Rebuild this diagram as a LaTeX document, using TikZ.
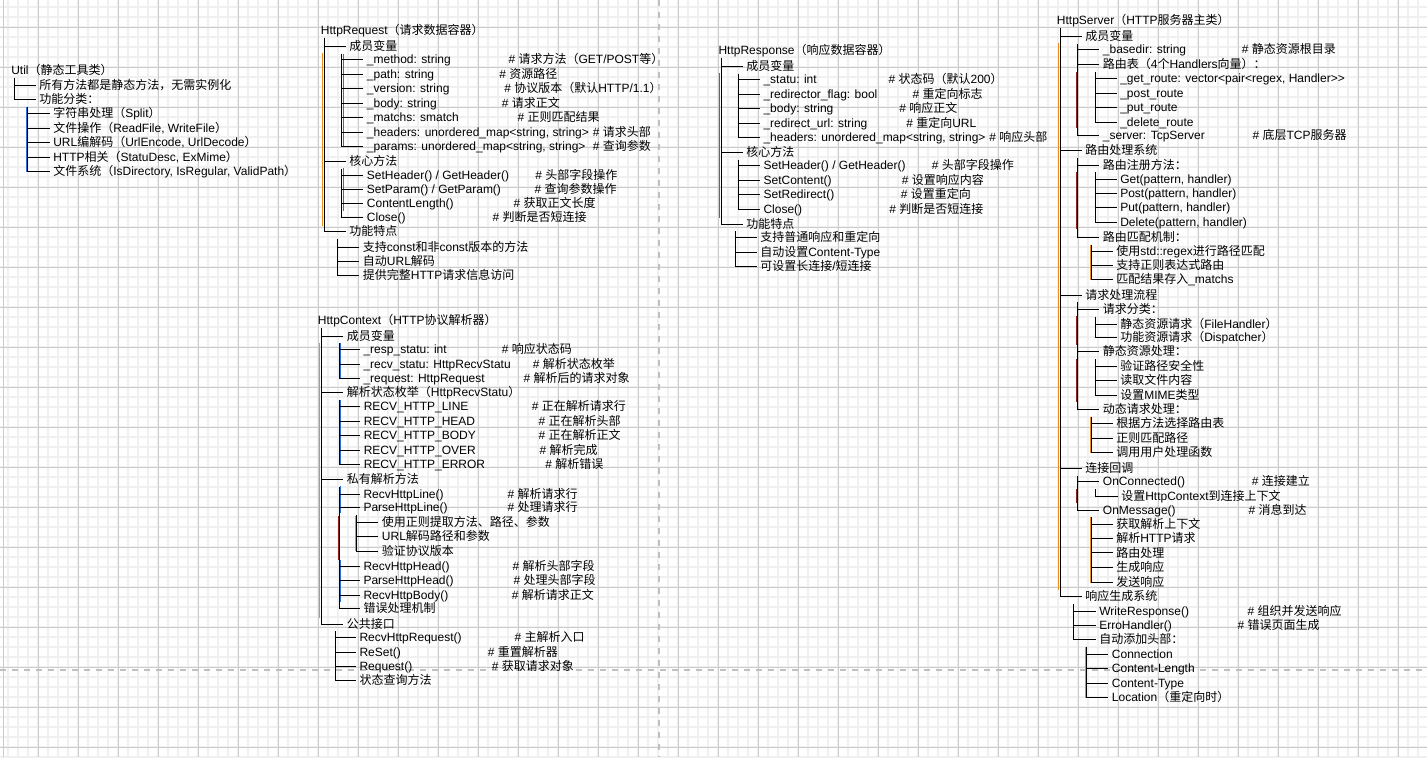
\documentclass[tikz,border=0pt]{standalone}
\usepackage{fontspec}
\setmainfont{Liberation Sans}
\newfontfamily\cjkfont{Noto Sans CJK SC}
\newfontfamily\latfont{Liberation Sans}
\XeTeXinterchartokenstate=1
\newXeTeXintercharclass\cjkcls
\makeatletter
\def\setcjkrange#1#2{\count@=#1\relax\loop\XeTeXcharclass\count@=\cjkcls\ifnum\count@<#2\relax\advance\count@ by 1\repeat}
\makeatother
\setcjkrange{"3000}{"303F}
\setcjkrange{"4E00}{"9FFF}
\setcjkrange{"FF00}{"FFEF}
\XeTeXinterchartoks 0 \cjkcls = {\cjkfont}
\XeTeXinterchartoks 4095 \cjkcls = {\cjkfont}
\XeTeXinterchartoks \cjkcls 0 = {\latfont}
\XeTeXinterchartoks \cjkcls 4095 = {\latfont}
\definecolor{gmaj}{HTML}{CCCCCC}
\definecolor{gmin}{HTML}{F0F0F0}
\definecolor{dsh}{HTML}{C0C0C0}
\definecolor{cor}{HTML}{E8901E}
\definecolor{cbl}{HTML}{2A6FD6}
\definecolor{cdr}{HTML}{8B2020}
\newcommand\nd[4]{\node[tx] (#1) at (#2,#3) {#4};}
\newcommand\nc[6]{\node[tx] (#1) at (#2,#3) {#4}; \node[tx] (#1c) at (#5,#3) {#6};}
\newcommand\br[2]{\draw[tree] (#1 |- #2.west) -- ([xshift=-2.5pt]#2.west);}
\newcommand\bl[2]{\draw[tree] (#1) |- ([xshift=-2.5pt]#2.west);}
\begin{document}
\begin{tikzpicture}[x=0.75pt,y=-0.75pt,
  tx/.style={anchor=west,inner sep=0pt,text height=6.4pt,text depth=0pt,font=\fontsize{9pt}{11pt}\selectfont},
  tree/.style={draw=black,line width=0.75pt},
  cl/.style={draw=#1,line width=0.75pt}]
\useasboundingbox (0,0) rectangle (1427,757);
\fill[white] (0,0) rectangle (1427,757);
% grid
\foreach \x in {8,18,...,1418} \draw[gmin,line width=1.1pt] (\x,0) -- (\x,757);
\foreach \y in {7,17,...,757} \draw[gmin,line width=1.1pt] (0,\y) -- (1427,\y);
\foreach \x in {38,78,...,1418} \draw[gmaj,line width=0.75pt] (\x,0) -- (\x,757);
\foreach \y in {27,67,...,747} \draw[gmaj,line width=0.75pt] (0,\y) -- (1427,\y);
\draw[gmaj,line width=0.75pt] (3,0) -- (3,757);
% dashed separators
\draw[dsh,line width=1.5pt,dash pattern=on 4.5pt off 4.5pt] (659,0) -- (659,757);
\draw[dsh,line width=1.5pt,dash pattern=on 4.5pt off 4.5pt] (0,670) -- (1427,670);
% coloured edge traces
\draw[cl=cbl] (26,107) -- (26,172);
\draw[cl=cor] (322.5,53) -- (322.5,226);
\draw[cl=cbl] (343,54) -- (343,147) (343,168) -- (343,211);
\draw[cl=cor] (319.5,343) -- (319.5,618);
\draw[cl=cbl] (340.5,343) -- (340.5,379) (340.5,400) -- (340.5,464) (340.5,486) -- (340.5,513) (340.5,560) -- (340.5,602);
\draw[cl=cdr] (338,516) -- (338,560);
\draw[cl=cor] (355.2,516) -- (355.2,551);
\draw[cl=cbl] (719.5,73) -- (719.5,218);
\draw[cl=cor] (1058,43) -- (1058,590);
\draw[cl=cdr] (1076.3,72) -- (1076.3,128) (1076.3,172) -- (1076.3,229) (1076.3,316) -- (1076.3,345) (1076.3,359) -- (1076.3,402) (1076.3,489) -- (1076.3,503);
\draw[cl=cor] (1090.3,245) -- (1090.3,280) (1090.3,417) -- (1090.3,453) (1090.3,517) -- (1090.3,583) (1085.3,647) -- (1085.3,698);

% ===== Util =====
\nd{u0}{11}{70.5}{Util（静态工具类）}
\nd{u1}{39}{85}{所有方法都是静态方法，无需实例化}
\nd{u2}{39}{99.5}{功能分类：}
\nd{u3}{53}{113.5}{字符串处理（Split）}
\nd{u4}{53}{128}{文件操作（ReadFile, WriteFile）}
\nd{u5}{53}{142.5}{URL编解码（UrlEncode, UrlDecode）}
\nd{u6}{53}{157}{HTTP相关（StatuDesc, ExMime）}
\nd{u7}{53}{171.5}{文件系统（IsDirectory, IsRegular, ValidPath）}
\coordinate (ku0) at (14,78);
\br{ku0}{u1} \bl{ku0}{u2}
\coordinate (ku2) at (27.3,106.5);
\br{ku2}{u3} \br{ku2}{u4} \br{ku2}{u5} \br{ku2}{u6} \bl{ku2}{u7}

% ===== HttpRequest =====
\nd{q0}{320.7}{30}{HttpRequest（请求数据容器）}
\nd{q1}{349}{46.5}{成员变量}
\nc{q11}{366.7}{59.5}{\_method: string}{508.3}{\# 请求方法（GET/POST等）}
\nc{q12}{366.7}{74}{\_path: string}{499}{\# 资源路径}
\nc{q13}{366.7}{88.3}{\_version: string}{504}{\# 协议版本（默认HTTP/1.1）}
\nc{q14}{366.7}{103}{\_body: string}{501.5}{\# 请求正文}
\nc{q15}{366.7}{117.5}{\_matchs: smatch}{517.3}{\# 正则匹配结果}
\nc{q16}{366.7}{132}{\_headers: unordered\_map<string, string>}{592.5}{\# 请求头部}
\nc{q17}{366.7}{146.5}{\_params: unordered\_map<string, string>}{592.5}{\# 查询参数}
\nd{q2}{349}{161.5}{核心方法}
\nc{q21}{366.7}{175.3}{SetHeader() / GetHeader()}{535}{\# 头部字段操作}
\nc{q22}{366.7}{189.5}{SetParam() / GetParam()}{534.3}{\# 查询参数操作}
\nc{q23}{366.7}{203.5}{ContentLength()}{513.3}{\# 获取正文长度}
\nc{q24}{366.7}{217.5}{Close()}{492.3}{\# 判断是否短连接}
\nd{q3}{349}{231.7}{功能特点}
\nd{q31}{362.7}{247.3}{支持const和非const版本的方法}
\nd{q32}{362.7}{261.3}{自动URL解码}
\nd{q33}{362.7}{275.3}{提供完整HTTP请求信息访问}
\coordinate (kq0) at (324.3,37.5);
\br{kq0}{q1} \br{kq0}{q2} \bl{kq0}{q3}
\coordinate (kq1) at (341.7,53.5);
\br{kq1}{q11} \br{kq1}{q12} \br{kq1}{q13} \br{kq1}{q14} \br{kq1}{q15} \br{kq1}{q16} \bl{kq1}{q17}
\coordinate (kq2) at (341.7,168.5);
\br{kq2}{q21} \br{kq2}{q22} \br{kq2}{q23} \bl{kq2}{q24}
\coordinate (kq3) at (337.7,238.8);
\br{kq3}{q31} \br{kq3}{q32} \bl{kq3}{q33}

% ===== HttpContext =====
\nd{c0}{317.7}{320}{HttpContext（HTTP协议解析器）}
\nd{c1}{346.7}{336}{成员变量}
\nc{c11}{363.3}{349.5}{\_resp\_statu: int}{501.7}{\# 响应状态码}
\nc{c12}{363.3}{364}{\_recv\_statu: HttpRecvStatu}{532.7}{\# 解析状态枚举}
\nc{c13}{363.3}{378.3}{\_request: HttpRequest}{523.3}{\# 解析后的请求对象}
\nd{c2}{346.7}{392.7}{解析状态枚举（HttpRecvStatu）}
\nc{c21}{363.5}{406.7}{RECV\_HTTP\_LINE}{531.7}{\# 正在解析请求行}
\nc{c22}{363.5}{421}{RECV\_HTTP\_HEAD}{538.3}{\# 正在解析头部}
\nc{c23}{363.5}{435.3}{RECV\_HTTP\_BODY}{538.3}{\# 正在解析正文}
\nc{c24}{363.5}{450}{RECV\_HTTP\_OVER}{539.3}{\# 解析完成}
\nc{c25}{363.5}{464}{RECV\_HTTP\_ERROR}{545}{\# 解析错误}
\nd{c3}{346.7}{479.3}{私有解析方法}
\nc{c31}{363.3}{494}{RecvHttpLine()}{507.3}{\# 解析请求行}
\nc{c32}{363.3}{507.7}{ParseHttpLine()}{507.3}{\# 处理请求行}
\nd{c321}{381.7}{522.7}{使用正则提取方法、路径、参数}
\nd{c322}{381.7}{536.5}{URL解码路径和参数}
\nd{c323}{381.7}{551}{验证协议版本}
\nc{c33}{363.3}{566.7}{RecvHttpHead()}{512.3}{\# 解析头部字段}
\nc{c34}{363.3}{580.3}{ParseHttpHead()}{513.3}{\# 处理头部字段}
\nc{c35}{363.3}{595}{RecvHttpBody()}{511.7}{\# 解析请求正文}
\nd{c36}{363.3}{608.5}{错误处理机制}
\nd{c4}{346.7}{624}{公共接口}
\nc{c41}{359.3}{637.7}{RecvHttpRequest()}{514.3}{\# 主解析入口}
\nc{c42}{359.3}{652}{ReSet()}{487.7}{\# 重置解析器}
\nc{c43}{359.3}{666.7}{Request()}{491.7}{\# 获取请求对象}
\nd{c44}{359.3}{680.7}{状态查询方法}
\coordinate (kc0) at (321,327.5);
\br{kc0}{c1} \br{kc0}{c2} \br{kc0}{c3} \bl{kc0}{c4}
\coordinate (kc1) at (339.3,343);
\br{kc1}{c11} \br{kc1}{c12} \bl{kc1}{c13}
\coordinate (kc2) at (339.3,400);
\br{kc2}{c21} \br{kc2}{c22} \br{kc2}{c23} \br{kc2}{c24} \bl{kc2}{c25}
\coordinate (kc3) at (339.3,486.5);
\br{kc3}{c31} \br{kc3}{c32} \br{kc3}{c33} \br{kc3}{c34} \br{kc3}{c35} \bl{kc3}{c36}
\coordinate (kc32) at (356.7,515);
\br{kc32}{c321} \br{kc32}{c322} \bl{kc32}{c323}
\coordinate (kc4) at (335,631);
\br{kc4}{c41} \br{kc4}{c42} \br{kc4}{c43} \bl{kc4}{c44}

% ===== HttpResponse =====
\nd{p0}{718.3}{50}{HttpResponse（响应数据容器）}
\nd{p1}{746}{66.7}{成员变量}
\nc{p11}{763.3}{79.3}{\_statu: int}{888.3}{\# 状态码（默认200）}
\nc{p12}{763.3}{94}{\_redirector\_flag: bool}{912.3}{\# 重定向标志}
\nc{p13}{763.3}{108.3}{\_body: string}{899}{\# 响应正文}
\nc{p14}{763.3}{123}{\_redirect\_url: string}{906}{\# 重定向URL}
\nc{p15}{763.3}{137.3}{\_headers: unordered\_map<string, string>}{989}{\# 响应头部}
\nd{p2}{746}{152.3}{核心方法}
\nc{p21}{763.3}{165.7}{SetHeader() / GetHeader()}{931.7}{\# 头部字段操作}
\nc{p22}{763.3}{180.3}{SetContent()}{901.7}{\# 设置响应内容}
\nc{p23}{763.3}{194.3}{SetRedirect()}{900.7}{\# 设置重定向}
\nc{p24}{763.3}{209}{Close()}{889}{\# 判断是否短连接}
\nd{p3}{746}{224}{功能特点}
\nd{p31}{760}{237.5}{支持普通响应和重定向}
\nd{p32}{760}{252}{自动设置Content-Type}
\nd{p33}{760}{266}{可设置长连接/短连接}
\coordinate (kp0) at (721,57.5);
\br{kp0}{p1} \br{kp0}{p2} \bl{kp0}{p3}
\coordinate (kp1) at (738.3,73.5);
\br{kp1}{p11} \br{kp1}{p12} \br{kp1}{p13} \br{kp1}{p14} \bl{kp1}{p15}
\coordinate (kp2) at (738.3,159.5);
\br{kp2}{p21} \br{kp2}{p22} \br{kp2}{p23} \bl{kp2}{p24}
\coordinate (kp3) at (735,231);
\br{kp3}{p31} \br{kp3}{p32} \bl{kp3}{p33}

% ===== HttpServer =====
\nd{s0}{1056.7}{20}{HttpServer（HTTP服务器主类）}
\nd{s1}{1085}{36.7}{成员变量}
\nc{s11}{1102.7}{49.3}{\_basedir: string}{1241.7}{\# 静态资源根目录}
\nd{s12}{1102.7}{64.3}{路由表（4个Handlers向量）：}
\nd{s121}{1120}{78.3}{\_get\_route: vector<pair<regex, Handler>{}>}
\nd{s122}{1120}{93}{\_post\_route}
\nd{s123}{1120}{107.7}{\_put\_route}
\nd{s124}{1120}{122}{\_delete\_route}
\nc{s13}{1102.7}{135.7}{\_server: TcpServer}{1252.3}{\# 底层TCP服务器}
\nd{s2}{1085}{150.7}{路由处理系统}
\nd{s21}{1102.7}{165}{路由注册方法：}
\nd{s211}{1120}{179.3}{Get(pattern, handler)}
\nd{s212}{1120}{193.7}{Post(pattern, handler)}
\nd{s213}{1120}{207.5}{Put(pattern, handler)}
\nd{s214}{1120}{222}{Delete(pattern, handler)}
\nd{s22}{1102.7}{237.3}{路由匹配机制：}
\nd{s221}{1116}{251.7}{使用std::regex进行路径匹配}
\nd{s222}{1116}{265.7}{支持正则表达式路由}
\nd{s223}{1116}{279.5}{匹配结果存入\_matchs}
\nd{s3}{1085}{295}{请求处理流程}
\nd{s31}{1102.7}{309.3}{请求分类：}
\nd{s311}{1120}{324}{静态资源请求（FileHandler）}
\nd{s312}{1120}{337.7}{功能资源请求（Dispatcher）}
\nd{s32}{1102.7}{351.7}{静态资源处理：}
\nd{s321}{1120}{366.7}{验证路径安全性}
\nd{s322}{1120}{380.7}{读取文件内容}
\nd{s323}{1120}{395.3}{设置MIME类型}
\nd{s33}{1102.7}{409.3}{动态请求处理：}
\nd{s331}{1116}{423.7}{根据方法选择路由表}
\nd{s332}{1116}{438}{正则匹配路径}
\nd{s333}{1116}{452.3}{调用用户处理函数}
\nd{s4}{1085}{468.3}{连接回调}
\nc{s41}{1102.7}{481.7}{OnConnected()}{1251.7}{\# 连接建立}
\nd{s411}{1121}{496}{设置HttpContext到连接上下文}
\nc{s42}{1102.7}{510}{OnMessage()}{1248.3}{\# 消息到达}
\nd{s421}{1116}{524.3}{获取解析上下文}
\nd{s422}{1116}{538.7}{解析HTTP请求}
\nd{s423}{1116}{552.9}{路由处理}
\nd{s424}{1116}{567.5}{生成响应}
\nd{s425}{1116}{582.2}{发送响应}
\nd{s5}{1085}{596.7}{响应生成系统}
\nc{s51}{1099}{611}{WriteResponse()}{1247.3}{\# 组织并发送响应}
\nc{s52}{1099}{625.7}{ErroHandler()}{1237.3}{\# 错误页面生成}
\nd{s53}{1099}{639.5}{自动添加头部：}
\nd{s531}{1111.7}{654.3}{Connection}
\nd{s532}{1111.7}{668.7}{Content-Length}
\nd{s533}{1111.7}{683.5}{Content-Type}
\nd{s534}{1111.7}{697.7}{Location（重定向时）}
\coordinate (ks0) at (1060,27.5);
\br{ks0}{s1} \br{ks0}{s2} \br{ks0}{s3} \br{ks0}{s4} \bl{ks0}{s5}
\coordinate (ks1) at (1077.7,43.5);
\br{ks1}{s11} \br{ks1}{s12} \bl{ks1}{s13}
\coordinate (ks12) at (1095,71.5);
\br{ks12}{s121} \br{ks12}{s122} \br{ks12}{s123} \bl{ks12}{s124}
\coordinate (ks2) at (1077.7,158);
\br{ks2}{s21} \bl{ks2}{s22}
\coordinate (ks21) at (1095,172);
\br{ks21}{s211} \br{ks21}{s212} \br{ks21}{s213} \bl{ks21}{s214}
\coordinate (ks22) at (1091.7,244.5);
\br{ks22}{s221} \br{ks22}{s222} \bl{ks22}{s223}
\coordinate (ks3) at (1077.7,302);
\br{ks3}{s31} \br{ks3}{s32} \bl{ks3}{s33}
\coordinate (ks31) at (1095,316.5);
\br{ks31}{s311} \bl{ks31}{s312}
\coordinate (ks32) at (1095,359);
\br{ks32}{s321} \br{ks32}{s322} \bl{ks32}{s323}
\coordinate (ks33) at (1091.7,416.5);
\br{ks33}{s331} \br{ks33}{s332} \bl{ks33}{s333}
\coordinate (ks4) at (1077.7,475.5);
\br{ks4}{s41} \bl{ks4}{s42}
\coordinate (ks41) at (1095,489);
\bl{ks41}{s411}
\coordinate (ks42) at (1091,517);
\br{ks42}{s421} \br{ks42}{s422} \br{ks42}{s423} \br{ks42}{s424} \bl{ks42}{s425}
\coordinate (ks5) at (1073.3,604);
\br{ks5}{s51} \br{ks5}{s52} \bl{ks5}{s53}
\coordinate (ks53) at (1086.7,646.5);
\br{ks53}{s531} \br{ks53}{s532} \br{ks53}{s533} \bl{ks53}{s534}
\end{tikzpicture}
\end{document}
